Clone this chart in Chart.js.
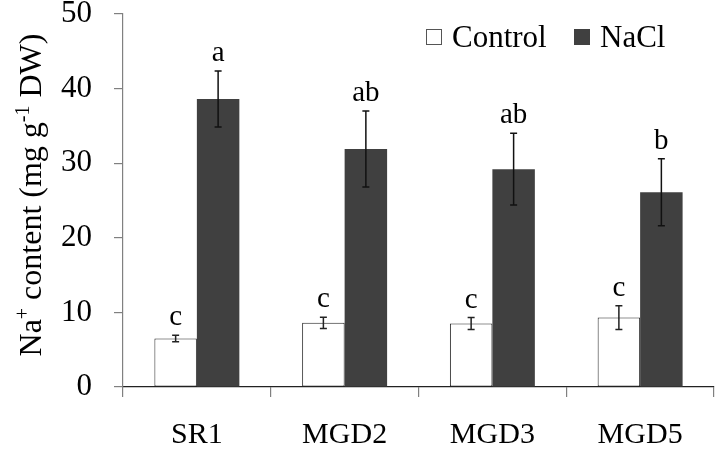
<!DOCTYPE html>
<html>
<head>
<meta charset="utf-8">
<script src="https://cdn.jsdelivr.net/npm/chart.js@4.4.1/dist/chart.umd.min.js"></script>
<style>
  html, body { margin: 0; padding: 0; background: #fff; }
  #wrap { width: 718px; height: 449px; position: relative; }
</style>
</head>
<body>
<div id="wrap"><canvas id="c" width="718" height="449"></canvas></div>
<script>
const categories = ['SR1', 'MGD2', 'MGD3', 'MGD5'];
const seriesNames = ['Control', 'NaCl'];
const controlValues = [6.5, 8.6, 8.5, 9.3];
const naclValues = [38.6, 31.9, 29.2, 26.1];
const controlErrors = [0.45, 0.75, 0.8, 1.6];
const naclErrors = [3.75, 5.1, 4.8, 4.5];
const controlLetters = ['c', 'c', 'c', 'c'];
const naclLetters = ['a', 'ab', 'ab', 'b'];
const yMin = 0, yMax = 50, yStep = 10;

const FONT = '"Liberation Serif", "Times New Roman", serif';
const errors = [controlErrors, naclErrors];
const letters = [controlLetters, naclLetters];

const annotPlugin = {
  id: 'annot',
  afterDatasetsDraw(chart) {
    const ctx = chart.ctx;
    const ys = chart.scales.y;
    ctx.save();
    chart.data.datasets.forEach((ds, di) => {
      const meta = chart.getDatasetMeta(di);
      meta.data.forEach((bar, i) => {
        const v = ds.data[i], e = errors[di][i];
        const x = bar.x;
        const yt = ys.getPixelForValue(v + e), yb = ys.getPixelForValue(v - e);
        ctx.strokeStyle = di === 0 ? '#222' : '#111';
        ctx.lineWidth = 1.5;
        ctx.beginPath();
        ctx.moveTo(x, yt); ctx.lineTo(x, yb);
        ctx.moveTo(x - 3.5, yt); ctx.lineTo(x + 3.5, yt);
        ctx.moveTo(x - 3.5, yb); ctx.lineTo(x + 3.5, yb);
        ctx.stroke();
        ctx.fillStyle = '#000';
        ctx.font = '29px ' + FONT;
        ctx.textAlign = 'center';
        ctx.textBaseline = 'alphabetic';
        ctx.fillText(letters[di][i], x, yt - 10);
      });
    });
    ctx.restore();
  },
  afterDraw(chart) {
    const ctx = chart.ctx;
    ctx.save();
    // Legend
    ctx.font = '31px ' + FONT;
    ctx.textBaseline = 'alphabetic';
    ctx.textAlign = 'left';
    const items = [
      { x: 426, fill: '#fff', stroke: '#555', label: seriesNames[0] },
      { x: 574, fill: '#404040', stroke: '#404040', label: seriesNames[1] }
    ];
    items.forEach(it => {
      ctx.fillStyle = it.fill;
      ctx.fillRect(it.x, 29, 16, 16);
      ctx.strokeStyle = it.stroke;
      ctx.lineWidth = 1;
      ctx.strokeRect(it.x + 0.5, 29.5, 15, 15);
      ctx.fillStyle = '#000';
      ctx.fillText(it.label, it.x + 26, 47);
    });
    // Y axis title with superscripts
    const parts = [
      { t: 'Na', sup: false },
      { t: '+', sup: true },
      { t: ' content (mg g', sup: false },
      { t: '-1', sup: true },
      { t: ' DW)', sup: false }
    ];
    const mainF = '32px ' + FONT, supF = '20px ' + FONT;
    let total = 0;
    parts.forEach(p => { ctx.font = p.sup ? supF : mainF; p.w = ctx.measureText(p.t).width; total += p.w; });
    ctx.translate(41, 195);
    ctx.rotate(-Math.PI / 2);
    let x = -total / 2;
    ctx.fillStyle = '#000';
    parts.forEach(p => {
      ctx.font = p.sup ? supF : mainF;
      ctx.fillText(p.t, x, p.sup ? -12 : 0);
      x += p.w;
    });
    ctx.restore();
  }
};

new Chart(document.getElementById('c'), {
  type: 'bar',
  data: {
    labels: categories,
    datasets: [
      { label: seriesNames[0], data: controlValues, backgroundColor: '#ffffff', borderColor: '#222', borderWidth: 1, borderSkipped: false },
      { label: seriesNames[1], data: naclValues, backgroundColor: '#404040', borderColor: '#404040', borderWidth: 0 }
    ]
  },
  options: {
    responsive: false,
    animation: false,
    devicePixelRatio: 1,
    layout: { padding: { top: 14, right: 4, left: 0, bottom: 0 } },
    plugins: { legend: { display: false }, tooltip: { enabled: false } },
    datasets: { bar: { categoryPercentage: 0.575, barPercentage: 1.0 } },
    scales: {
      x: {
        afterFit(s) { s.height = 62; },
        grid: { offset: true, drawOnChartArea: false, drawTicks: true, tickLength: 10, color: '#808080', lineWidth: 1.2 },
        border: { display: true, color: '#222', width: 1.2 },
        ticks: { color: '#000', font: { family: FONT, size: 30 }, padding: 20 }
      },
      y: {
        min: yMin, max: yMax,
        afterFit(s) { s.width = 123; s.paddingTop = 0; s.paddingBottom = 0; },
        grid: { drawOnChartArea: false, drawTicks: true, tickLength: 9, color: '#808080', lineWidth: 1.2 },
        border: { display: true, color: '#808080', width: 1.2 },
        ticks: { stepSize: yStep, color: '#000', font: { family: FONT, size: 31 }, padding: 22 }
      }
    }
  },
  plugins: [annotPlugin]
});
</script>
</body>
</html>
